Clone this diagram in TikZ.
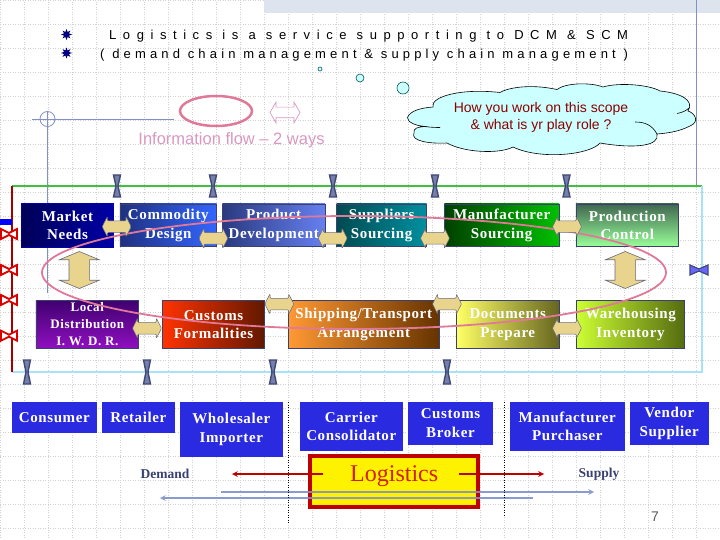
\documentclass[tikz,border=0pt]{standalone}
\usepackage{fontspec}
\usepackage{xcolor}
\usetikzlibrary{shapes.arrows,shapes.geometric}
\setmainfont{Liberation Serif}
\newfontfamily\arialfont{Liberation Sans}
\newfontfamily\titlefontA[LetterSpace=50.5]{Liberation Sans}
\newfontfamily\titlefontB[LetterSpace=32]{Liberation Sans}
\newfontfamily\boxfont[LetterSpace=4]{Liberation Serif}

\definecolor{creamfill}{HTML}{E8D48C}
\definecolor{arrowedge}{HTML}{6A6A80}
\definecolor{boxedge}{HTML}{3A4070}
\definecolor{blockblue}{HTML}{2A2AE0}
\definecolor{curvepink}{HTML}{E07898}
\definecolor{flowpink}{HTML}{D898C0}
\definecolor{steelline}{HTML}{8090C8}
\definecolor{cloudfill}{HTML}{CCFFFF}
\definecolor{tieedge}{HTML}{404878}
\definecolor{tiefill}{HTML}{7480A8}
\definecolor{bandgrey}{HTML}{DDE4EE}

\tikzset{
  griddot/.style={draw=black!18, line width=0.5pt, dotted},
  chainbox/.style={rectangle, draw=boxedge, line width=0.8pt, outer sep=0pt, inner sep=0pt,
    align=center, text=white, font=\boxfont\bfseries\fontsize{15}{18.6}\selectfont},
  flatbox/.style={chainbox, draw=none, fill=blockblue},
  twoway/.style={double arrow, draw=arrowedge, line width=0.5pt, fill=creamfill, inner sep=5.5pt,
    minimum height=29pt, minimum width=20pt, double arrow head extend=4.5pt,
    double arrow tip angle=126, rounded corners=1pt},
  updown/.style={double arrow, draw=arrowedge, line width=0.6pt, fill=creamfill, inner sep=10pt,
    minimum height=37pt, minimum width=39pt, double arrow head extend=9.5pt,
    double arrow tip angle=135, shape border rotate=90},
  tiegrey/.style={draw=tieedge, line width=1.4pt, fill=tiefill},
  tieblue/.style={draw=tieedge, line width=1.2pt, fill=blue!60!white},
  tiered/.style={draw=red!85!black, line width=1.8pt, fill=white},
  flowarrow/.style={->, line width=1.5pt},
  smallbubble/.style={circle, draw=teal!70!black, line width=0.6pt, fill=cloudfill, inner sep=0pt},
  bullet/.style={star, star points=8, star point ratio=2.0, fill=blue!50!black, inner sep=0pt, minimum size=11pt}
}

\begin{document}
\begin{tikzpicture}[x=1pt, y=-1pt, >=stealth]
  \useasboundingbox (0,0) rectangle (720,540);

  % Background
  \draw[griddot, step=24pt] (0,0) grid (720,540);
  \fill[bandgrey] (264,0) rectangle (720,13);
  \draw[steelline, line width=0.7pt] (696,0) -- (696,186);
  \draw[steelline, line width=0.8pt] (32,119) -- (174,119);
  \draw[steelline, line width=0.8pt] (47.5,111) -- (47.5,293);
  \draw[steelline, line width=0.8pt] (47.5,119) circle (7.5);

  % Title
  \node[bullet] (bulletA) at (66.5,34.5) {};
  \node[bullet] (bulletB) at (66.5,53) {};
  \node[anchor=base west, inner sep=0pt, font=\titlefontA\fontsize{13}{15}\selectfont] (titleA) at (109,39.5)
    {Logistics is a service supporting to DCM \& SCM};
  \node[anchor=base west, inner sep=0pt, font=\titlefontB\fontsize{13}{15}\selectfont] (titleB) at (100,58.5)
    {( demand chain management \& supply chain management )};

  % Bubbles and cloud
  \node[smallbubble, minimum size=4pt] (bubbleA) at (320,69) {};
  \node[smallbubble, minimum size=8pt] (bubbleB) at (360,78) {};
  \node[smallbubble, minimum size=12pt] (bubbleC) at (403,88) {};
  \draw[fill=cloudfill, line width=0.6pt]
    (407.5,117.5) .. controls (410,111) and (420,108) .. (433,107)
    .. controls (430,97) and (460,88) .. (500,92.5)
    .. controls (505,89) and (527,83) .. (557,89.5)
    .. controls (565,83) and (590,82) .. (603,87)
    .. controls (620,82) and (650,85) .. (660,91)
    .. controls (680,93) and (695,100) .. (688,111)
    .. controls (695,113) and (700,122) .. (690,126)
    .. controls (680,131) and (670,133) .. (657,134)
    .. controls (660,146) and (635,149) .. (600,143)
    .. controls (590,155) and (540,160) .. (513,147)
    .. controls (500,154) and (465,153) .. (447,143)
    .. controls (430,144) and (410,141) .. (414,133)
    .. controls (413,128) and (418,127) .. (425,126.5)
    .. controls (416,126) and (407,122) .. (407.5,117.5) -- cycle;
  \draw[line width=0.6pt] (440,127.5) .. controls (432,127.5) and (428,127) .. (420,126);
  \draw[line width=0.6pt] (677,113.5) .. controls (682,112.5) and (686,111) .. (689,108);
  \draw[line width=0.6pt] (635,122) .. controls (645,122) and (652,125) .. (657,134);
  \node[align=center, text=red!55!black, font=\arialfont\fontsize{14}{17}\selectfont] (question) at (541,117)
    {How you work on this scope\\\& what is yr play role ?};

  % Information flow key
  \draw[curvepink, line width=2.5pt] (216,111) ellipse (36 and 15);
  \node[double arrow, draw=flowpink, line width=0.7pt, inner sep=5pt, minimum height=30pt, minimum width=20pt,
    double arrow head extend=5pt, double arrow tip angle=120] (flowkey) at (285,112.5) {};
  \node[text=flowpink, font=\arialfont\fontsize{16.5}{18}\selectfont] (flowtext) at (231.5,140) {Information flow – 2 ways};

  % Frame
  \draw[green!50!gray, line width=1.6pt] (12,186) -- (702,186);
  \draw[cyan!35!white, line width=1.6pt] (702,186) -- (702,372) -- (12,372);
  \draw[red!65!black, line width=1.4pt] (12,186) -- (12,372);
  \fill[blue] (0,219) rectangle (12,225);

  % Upper chain
  \node[chainbox, draw=blue!65!black, line width=1.5pt, minimum width=92pt, minimum height=44pt, left color=blue!35!black, right color=blue!65!black] (market) at (67.5,225.5) {Market\\Needs};
  \node[chainbox, minimum width=96.7pt, minimum height=42.7pt, left color={rgb,255:red,31;green,48;blue,128}, right color={rgb,255:red,51;green,102;blue,255}] (commodity) at (168.3,225.3) {Commodity\\Design};
  \node[chainbox, minimum width=102.7pt, minimum height=42.7pt, left color={rgb,255:red,42;green,58;blue,128}, right color={rgb,255:red,102;green,128;blue,240}] (product) at (273.7,225.3) {Product\\Development};
  \node[chainbox, minimum width=90pt, minimum height=42.7pt, left color={rgb,255:red,0;green,74;blue,80}, right color={rgb,255:red,0;green,144;blue,160}] (suppliers) at (381.7,225.3) {Suppliers\\Sourcing};
  \node[chainbox, minimum width=114.7pt, minimum height=42.7pt, left color={rgb,255:red,0;green,64;blue,0}, right color={rgb,255:red,0;green,192;blue,0}] (mfgsourcing) at (501.7,225.3) {Manufacturer\\Sourcing};
  \node[chainbox, minimum width=102.7pt, minimum height=42.7pt, top color={rgb,255:red,64;green,104;blue,80}, bottom color={rgb,255:red,153;green,255;blue,153}] (production) at (627.3,225.3) {Production\\Control};

  % Lower chain
  \node[chainbox, minimum width=102.7pt, minimum height=48.4pt, top color={rgb,255:red,64;green,0;blue,112}, bottom color={rgb,255:red,144;green,16;blue,192}, font=\boxfont\bfseries\fontsize{13}{17}\selectfont] (localdist) at (87.3,324.5) {Local\\Distribution\\I. W. D. R.};
  \node[chainbox, minimum width=102.4pt, minimum height=48.4pt, left color={rgb,255:red,255;green,51;blue,0}, right color={rgb,255:red,96;green,24;blue,0}] (customs) at (213.5,324.5) {Customs\\Formalities};
  \node[chainbox, minimum width=150.7pt, minimum height=48.4pt, left color={rgb,255:red,255;green,153;blue,51}, right color={rgb,255:red,102;green,51;blue,0}] (shipping) at (363.7,324.5) {Shipping/Transport\\Arrangement};
  \node[chainbox, minimum width=102.3pt, minimum height=48.4pt, left color={rgb,255:red,255;green,255;blue,102}, right color={rgb,255:red,102;green,102;blue,32}] (documents) at (507.8,324.5) {Documents\\Prepare};
  \node[chainbox, minimum width=108.4pt, minimum height=48.4pt, left color={rgb,255:red,204;green,255;blue,51}, right color={rgb,255:red,85;green,107;blue,16}] (warehouse) at (630.5,324.5) {Warehousing\\Inventory};

  % Scope curve
  \draw[curvepink, line width=1.8pt] (354,272.5) ellipse (312 and 56.5);

  % Block arrows
  \node[twoway] (marketcommodity) at (116.7,226.7) {};
  \node[twoway] (commodityproduct) at (213.3,238.3) {};
  \node[twoway] (productsuppliers) at (332.7,238.3) {};
  \node[twoway] (suppliersmfg) at (435,238.3) {};
  \node[twoway] (mfgproduction) at (567,226.7) {};
  \node[twoway] (localcustoms) at (147,328.3) {};
  \node[twoway] (customsshipping) at (279.3,304) {};
  \node[twoway] (shippingdocs) at (447,304) {};
  \node[twoway] (docswarehouse) at (567,328.3) {};
  \node[updown] (marketlocal) at (79.3,270) {};
  \node[updown] (productionware) at (625.3,270) {};

  % Ties on the frame
  \foreach \x in {117,213,333,435,566.5}
    \draw[tiegrey] (\x-3.5,175) -- (\x+3.5,175) -- (\x+1,186) -- (\x+3.5,197) -- (\x-3.5,197) -- (\x-1,186) -- cycle;
  \foreach \x in {27,147,273,447}
    \draw[tiegrey] (\x-3.5,360) -- (\x+3.5,360) -- (\x+1,372) -- (\x+3.5,384) -- (\x-3.5,384) -- (\x-1,372) -- cycle;
  \foreach \y in {234,270,300,335.7}
    \draw[tiered] (1,\y-5) -- (9,\y-1) -- (17,\y-5) -- (17,\y+5) -- (9,\y+1) -- (1,\y+5) -- cycle;
  \draw[tieblue] (690,265) -- (699,269) -- (708,265) -- (708,275) -- (699,271) -- (690,275) -- cycle;

  % Parties
  \node[flatbox, minimum width=84.7pt, minimum height=30.7pt] (consumer) at (54.3,417.3) {Consumer};
  \node[flatbox, minimum width=72.7pt, minimum height=30.7pt] (retailer) at (138.3,417.3) {Retailer};
  \node[flatbox, minimum width=102.7pt, minimum height=54.7pt] (wholesaler) at (231.3,429.3) {Wholesaler\\Importer};
  \node[flatbox, minimum width=102.7pt, minimum height=48.7pt] (carrier) at (351.3,426.3) {Carrier\\Consolidator};
  \node[flatbox, minimum width=84.4pt, minimum height=42.7pt] (broker) at (450.5,423.3) {Customs\\Broker};
  \node[flatbox, minimum width=114.7pt, minimum height=48.7pt] (purchaser) at (567.3,426.3) {Manufacturer\\Purchaser};
  \node[flatbox, minimum width=78.7pt, minimum height=42.7pt] (vendor) at (669.3,423.3) {Vendor\\Supplier};

  % Logistics
  \node[rectangle, draw=red!75!black, line width=4pt, fill=yellow, minimum width=167.7pt, minimum height=50.4pt,
    outer sep=0pt, text depth=15pt, text={rgb,255:red,208;green,32;blue,0}, font=\fontsize{24}{26}\selectfont] (logistics) at (394.2,481.5) {Logistics};
  \node[text=boxedge, font=\bfseries\fontsize{13.5}{15}\selectfont] (demand) at (165,474) {Demand};
  \node[text=boxedge, font=\bfseries\fontsize{13.5}{15}\selectfont] (supply) at (599,474.5) {Supply};
  \node[text=black!65, font=\arialfont\fontsize{14}{16}\selectfont] (pagenum) at (655,517) {7};

  \coordinate (redleftstart) at (323,474);
  \coordinate (redleftend) at (232,474);
  \coordinate (redrightstart) at (459,474);
  \coordinate (redrightend) at (544,474);
  \coordinate (supplystart) at (221,492);
  \coordinate (supplyend) at (594,492);
  \coordinate (demandstart) at (533,498);
  \coordinate (demandend) at (160,498);

  \draw[flowarrow, red!75!black] (redleftstart) -- (redleftend);
  \draw[flowarrow, red!75!black] (redrightstart) -- (redrightend);
  \draw[flowarrow, steelline, opacity=0.9] (supplystart) -- (supplyend);
  \draw[flowarrow, steelline, opacity=0.9] (demandstart) -- (demandend);

  % Dividers
  \draw[black, line width=0.5pt, dotted] (288.3,402) -- (288.3,523);
  \draw[black, line width=0.5pt, dotted] (504.3,402) -- (504.3,516.5);
\end{tikzpicture}
\end{document}
